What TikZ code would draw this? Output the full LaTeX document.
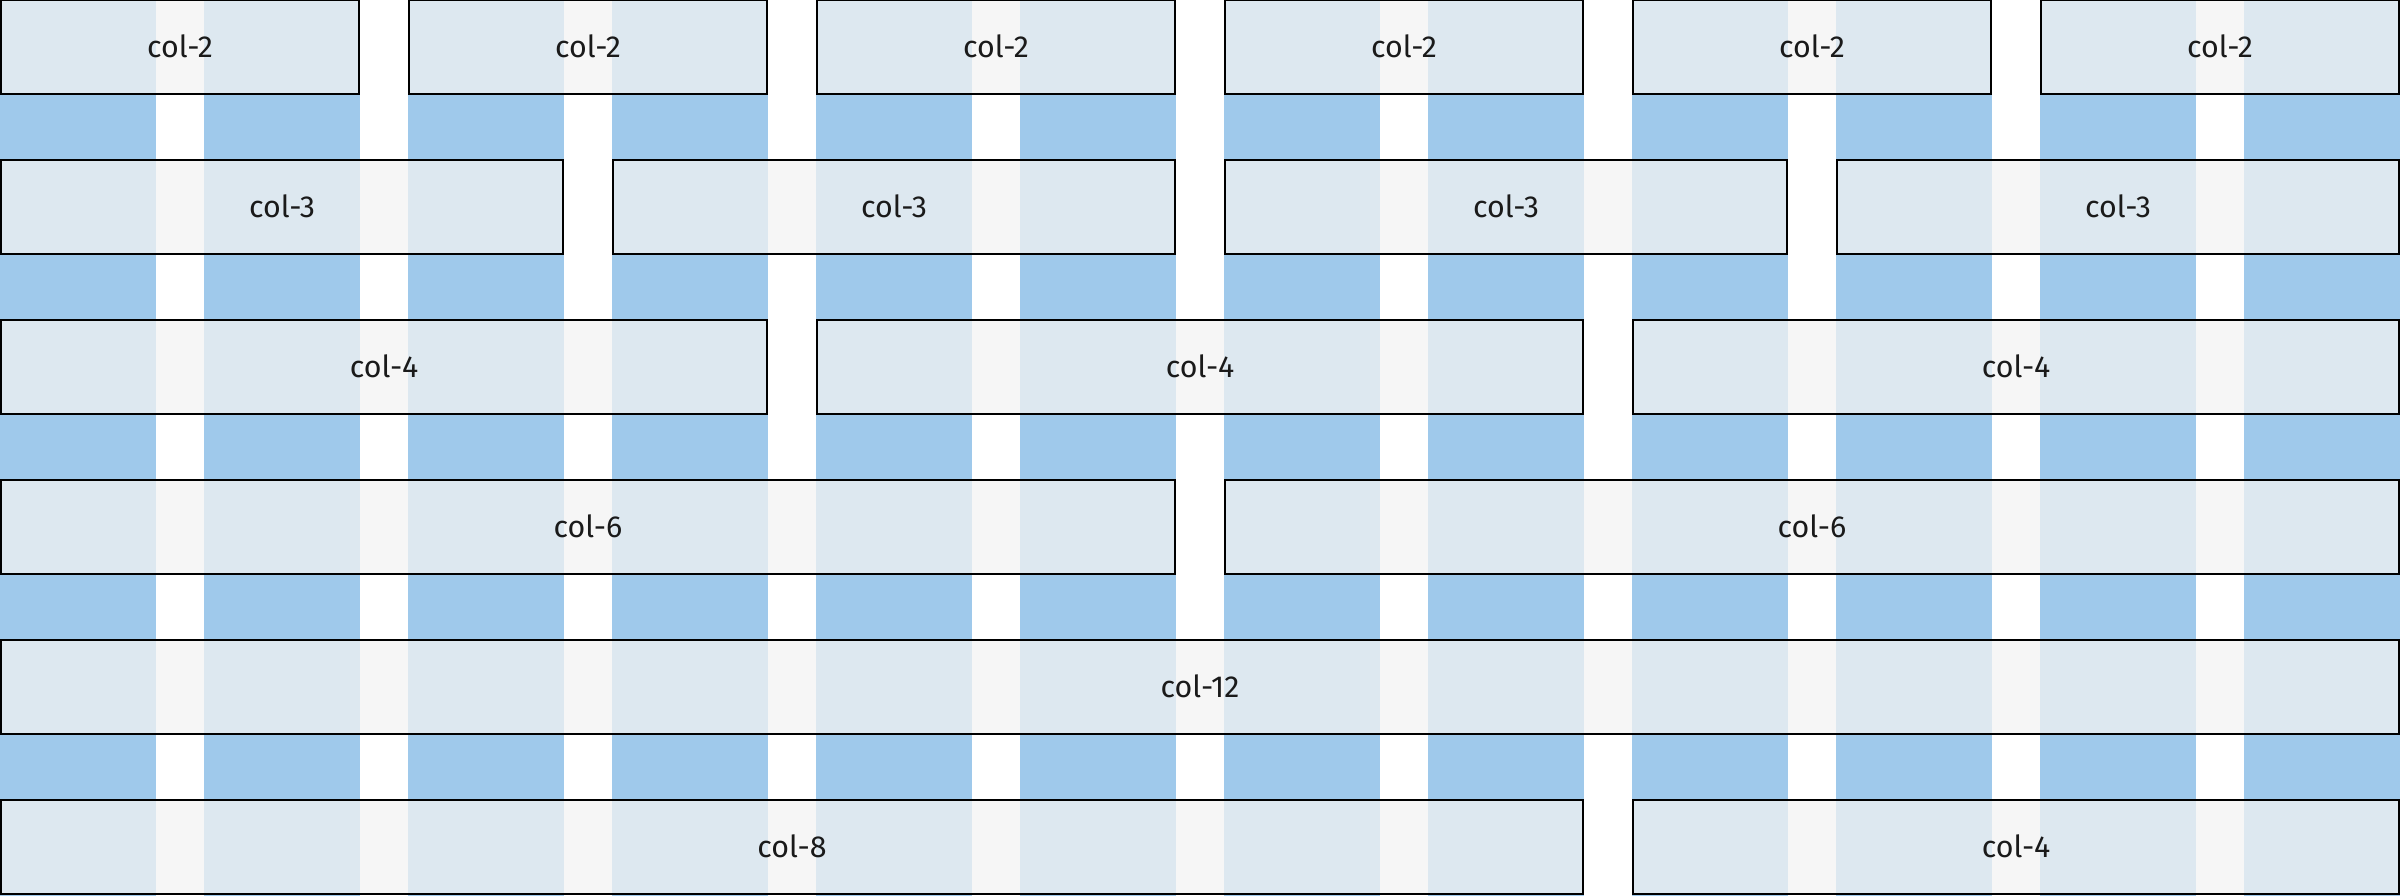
\documentclass[tikz,border=0pt]{standalone}
\usepackage{fontspec}
\setmainfont{Fira Sans}
\definecolor{gridblue}{RGB}{159,201,235}
\definecolor{boxfill}{RGB}{243,243,243}
\definecolor{textdark}{RGB}{26,26,26}
\begin{document}
\begin{tikzpicture}[x=0.25pt,y=-0.25pt,
  colbar/.style={fill=gridblue,draw=none},
  gridbox/.style={draw=black,line width=0.5pt,fill=boxfill,fill opacity=0.75,text opacity=1,
    rectangle,inner sep=0pt,outer sep=0pt,minimum height=23.5pt,
    text=textdark,font=\fontsize{7.6pt}{9pt}\selectfont}]
\useasboundingbox (0,0) rectangle (2400,896);
\fill[white] (0,0) rectangle (2400,896);
\foreach \i in {0,...,11}{
  \fill[colbar] ({204*\i},0) rectangle ({204*\i+156},896);
}
% row 0: col-2
\foreach \i in {0,...,5}{
  \node[gridbox,minimum width=89.5pt] (ra\i) at ({408*\i+180},47.5) {\raisebox{0.5pt}{col-2}};
}
% row 1: col-3
\foreach \i in {0,...,3}{
  \node[gridbox,minimum width=140.5pt] (rb\i) at ({612*\i+282},207.5) {\raisebox{0.5pt}{col-3}};
}
% row 2: col-4
\foreach \i in {0,...,2}{
  \node[gridbox,minimum width=191.5pt] (rc\i) at ({816*\i+384},367.5) {\raisebox{0.5pt}{col-4}};
}
% row 3: col-6
\foreach \i in {0,...,1}{
  \node[gridbox,minimum width=293.5pt] (rd\i) at ({1224*\i+588},527.5) {\raisebox{0.5pt}{col-6}};
}
% row 4: col-12
\node[gridbox,minimum width=599.5pt] (re0) at (1200,687.5) {\raisebox{0.5pt}{col-12}};
% row 5: col-8 + col-4
\node[gridbox,minimum width=395.5pt] (rf0) at (792,847.5) {\raisebox{0.5pt}{col-8}};
\node[gridbox,minimum width=191.5pt] (rf1) at (2016,847.5) {\raisebox{0.5pt}{col-4}};
\end{tikzpicture}
\end{document}
